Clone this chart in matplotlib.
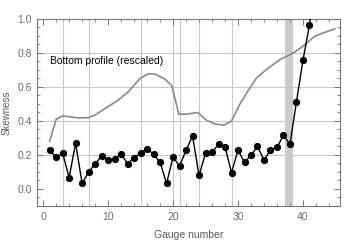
import matplotlib
matplotlib.use("Agg")
import matplotlib.pyplot as plt
from matplotlib.ticker import MultipleLocator

# skewness measured at each gauge
gauges = list(range(1, 43))
skewness = [0.228, 0.186, 0.210, 0.067, 0.269, 0.033, 0.100, 0.147, 0.194, 0.171,
            0.178, 0.206, 0.149, 0.184, 0.210, 0.237, 0.204, 0.157, 0.033, 0.188,
            0.134, 0.228, 0.312, 0.080, 0.210, 0.216, 0.263, 0.248, 0.096, 0.228,
            0.157, 0.198, 0.251, 0.169, 0.229, 0.245, 0.316, 0.263, 0.514, 0.757,
            0.963, 1.250]

# rescaled bottom profile
profile_x = [1.0, 2.0, 3.0, 4.5, 5.6, 7.0, 8.0, 9.7, 11.4, 13.1, 14.9, 16.2, 17.2,
             18.7, 19.8, 20.9, 22.0, 23.8, 25.1, 26.4, 27.8, 29.0, 30.3, 31.3,
             32.8, 34.4, 36.4, 38.5, 40.0, 41.8, 43.1, 44.9]
profile_y = [0.28, 0.41, 0.43, 0.422, 0.418, 0.42, 0.435, 0.478, 0.518, 0.572,
             0.650, 0.678, 0.676, 0.648, 0.608, 0.44, 0.44, 0.45, 0.406, 0.383,
             0.375, 0.40, 0.50, 0.563, 0.651, 0.704, 0.760, 0.800, 0.840, 0.898,
             0.918, 0.942]

grid_x = [3, 7, 15, 20, 21, 24, 29]
grid_y = [0.2, 0.4, 0.6, 0.8]
band = (37.25, 38.5)

plt.rcParams["font.family"] = ["Liberation Sans", "DejaVu Sans"]

fig = plt.figure(figsize=(3.6, 2.42), dpi=100)
ax = fig.add_axes([0.1036, 0.1488, 0.8408, 0.7727])

for gx in grid_x:
    ax.axvline(gx, color="#c8c8c8", lw=0.8, zorder=0)
for gy in grid_y:
    ax.axhline(gy, color="#c8c8c8", lw=0.8, zorder=0)

ax.axvspan(band[0], band[1], color="#cbcbcb", lw=0, zorder=1)

ax.plot(profile_x, profile_y, color="#8a8a8a", lw=1.2, zorder=2)
ax.plot(gauges, skewness, color="black", lw=1.0, marker="o", ms=4.2, zorder=3)

ax.text(1.0, 0.75, "Bottom profile (rescaled)", fontsize=7.5, va="center",
        ha="left", color="black")

ax.set_xlim(-0.9, 45.7)
ax.set_ylim(-0.1, 1.0)
ax.xaxis.set_major_locator(MultipleLocator(10))
ax.xaxis.set_minor_locator(MultipleLocator(2))
ax.yaxis.set_major_locator(MultipleLocator(0.2))
ax.yaxis.set_minor_locator(MultipleLocator(0.05))
ax.yaxis.set_major_formatter(plt.FuncFormatter(lambda v, p: f"{v:.1f}"))

ax.tick_params(which="both", direction="in", top=True, right=True,
               color="#777777", labelsize=7.5, labelcolor="#6b6b6b", pad=4)
ax.tick_params(which="major", length=4, width=0.7)
ax.tick_params(which="minor", length=2, width=0.6)
for s in ax.spines.values():
    s.set_color("#777777")
    s.set_linewidth(0.8)

ax.set_xlabel("Gauge number", fontsize=7.5, color="#5a5a5a", labelpad=6)
ax.set_ylabel("Skewness", fontsize=7, color="#5a5a5a")
ax.yaxis.set_label_coords(-0.086, 0.5)

fig.savefig("out.png", dpi=100)
